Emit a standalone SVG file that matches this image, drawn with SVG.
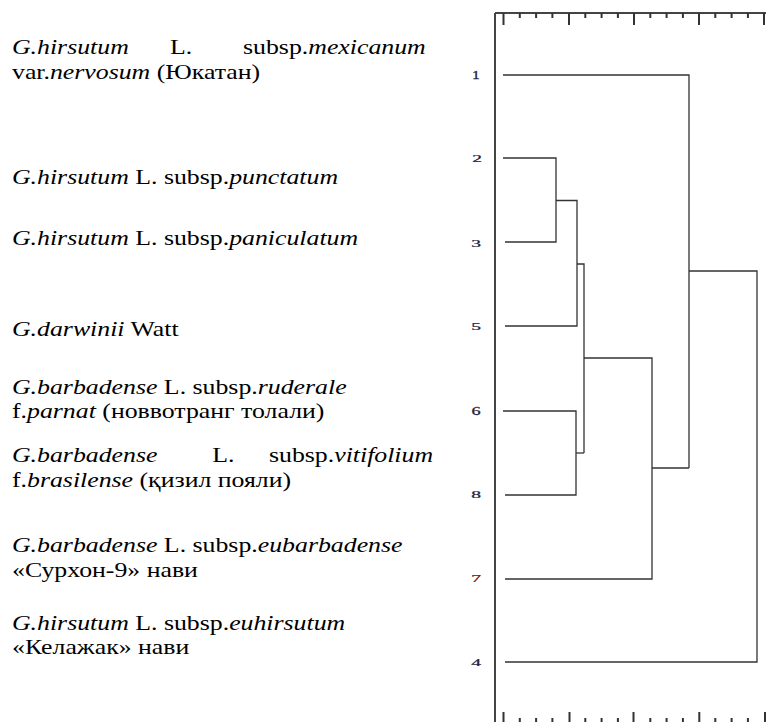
<svg xmlns="http://www.w3.org/2000/svg" width="766" height="722" viewBox="0 0 766 722">
<style>
.lbl{font-size:20px;fill:#000}
.it{font-style:italic}
.num{font-size:13px;fill:#1e1e3c;text-anchor:middle;stroke:#1e1e3c;stroke-width:0.3}
.br{fill:none;stroke:#333;stroke-width:1.3}
.ax{fill:none;stroke:#444;stroke-width:2}
.tk{fill:none;stroke:#333;stroke-width:2}
</style>
<rect width="766" height="722" fill="#fff"/>
<g id="labels" transform="translate(0,-2) scale(1.29,1)" font-family="'Liberation Serif', 'Times New Roman', Times, serif">
<g id="leaf-1">
<text class="lbl" y="56"><tspan x="9.3" class="it">G.hirsutum</tspan><tspan x="131.8">L.</tspan><tspan x="188.4">subsp.</tspan><tspan class="it">mexicanum</tspan></text>
<text class="lbl" x="9.3" y="81">var.<tspan class="it">nervosum</tspan> (Юкатан)</text>
</g>
<g id="leaf-2"><text class="lbl" x="9.3" y="186"><tspan class="it">G.hirsutum</tspan> L. subsp.<tspan class="it">punctatum</tspan></text></g>
<g id="leaf-3"><text class="lbl" x="9.3" y="247"><tspan class="it">G.hirsutum</tspan> L. subsp.<tspan class="it">paniculatum</tspan></text></g>
<g id="leaf-5"><text class="lbl" x="9.3" y="338"><tspan class="it">G.darwinii</tspan> Watt</text></g>
<g id="leaf-6">
<text class="lbl" x="9.3" y="396"><tspan class="it">G.barbadense</tspan> L. subsp.<tspan class="it">ruderale</tspan></text>
<text class="lbl" x="9.3" y="420">f.<tspan class="it">parnat</tspan> (новвотранг толали)</text>
</g>
<g id="leaf-8">
<text class="lbl" y="464"><tspan x="9.3" class="it">G.barbadense</tspan><tspan x="164.5">L.</tspan><tspan x="208.5">subsp.</tspan><tspan class="it">vitifolium</tspan></text>
<text class="lbl" x="9.3" y="489">f.<tspan class="it">brasilense</tspan> (қизил пояли)</text>
</g>
<g id="leaf-7">
<text class="lbl" x="9.3" y="554"><tspan class="it">G.barbadense</tspan> L. subsp.<tspan class="it">eubarbadense</tspan></text>
<text class="lbl" x="9.3" y="579">«Сурхон-9» нави</text>
</g>
<g id="leaf-4">
<text class="lbl" x="9.3" y="632"><tspan class="it">G.hirsutum</tspan> L. subsp.<tspan class="it">euhirsutum</tspan></text>
<text class="lbl" x="9.3" y="656">«Келажак» нави</text>
</g>
</g>
<g id="numbers" font-family="'Liberation Serif', 'Times New Roman', serif">
<text class="num" transform="translate(476,79) scale(1.2,0.95)">1</text>
<text class="num" transform="translate(477,162) scale(1.5,0.75)">2</text>
<text class="num" transform="translate(476,247) scale(1.5,0.75)">3</text>
<text class="num" transform="translate(476,330) scale(1.5,0.75)">5</text>
<text class="num" transform="translate(476,415) scale(1.4,0.9)">6</text>
<text class="num" transform="translate(476,498) scale(1.5,0.75)">8</text>
<text class="num" transform="translate(476,582) scale(1.5,0.75)" style="fill:#6a2020;stroke:#6a2020">7</text>
<text class="num" transform="translate(476,666) scale(1.5,0.75)">4</text>
</g>
<g id="axes">
<path class="ax" d="M495,13V722M495,13H766"/>
<path class="tk" d="M503.5,13V25M569,13V25M634,13V25M699,13V25M764,13V25"/>
<path class="tk" d="M519.8,13V18M536.1,13V18M552.4,13V18M585.3,13V18M601.6,13V18M617.9,13V18M650.3,13V18M666.6,13V18M682.9,13V18M715.3,13V18M731.6,13V18M747.9,13V18"/>
<path class="tk" d="M503.5,712V722M569.5,712V722M633.5,712V722M699.3,712V722M765,712V722"/>
<path class="tk" d="M519.8,718V722M536.1,718V722M552.4,718V722M585.3,718V722M601.6,718V722M617.9,718V722M650.3,718V722M666.6,718V722M682.9,718V722M715.3,718V722M731.6,718V722M747.9,718V722"/>
</g>
<g id="connectors">
<path class="br" d="M503,75H689V468"/>
<path class="br" d="M503,158H556V242H505"/>
<path class="br" d="M556,200.5H577V326H505"/>
<path class="br" d="M577,264H584V453"/>
<path class="br" d="M503,411H576V495H505"/>
<path class="br" d="M576,453H584"/>
<path class="br" d="M584,358H652V579H505"/>
<path class="br" d="M652,468H689"/>
<path class="br" d="M689,271H757V662H505"/>
</g>
</svg>
